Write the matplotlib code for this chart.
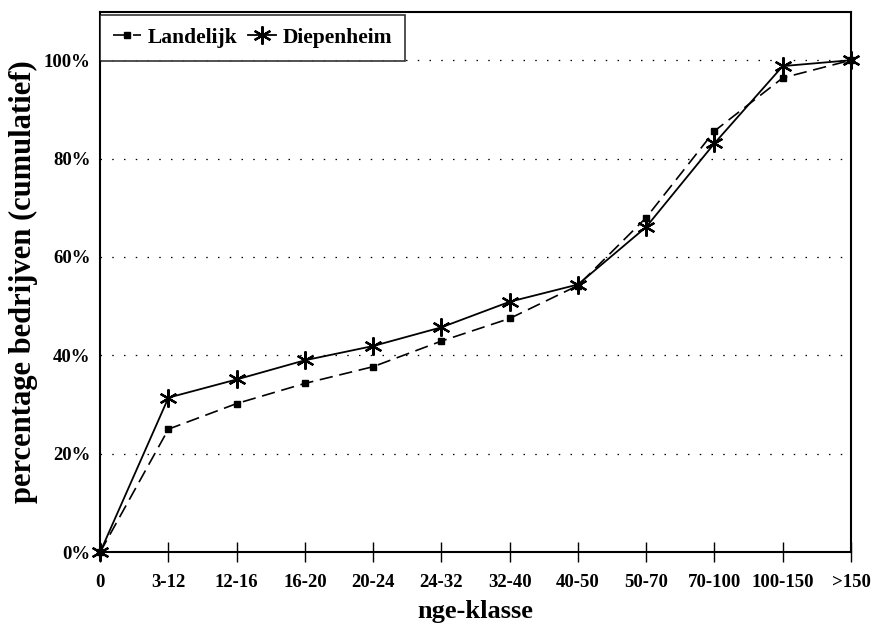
import matplotlib.pyplot as plt
import numpy as np
from matplotlib.ticker import FuncFormatter

klassen = ["0", "3-12", "12-16", "16-20", "20-24", "24-32", "32-40",
           "40-50", "50-70", "70-100", "100-150", ">150"]
landelijk = [0, 25.0, 30.2, 34.3, 37.7, 42.9, 47.5, 54.2, 68.0, 85.6, 96.4, 100]
diepenheim = [0, 31.4, 35.1, 39.0, 41.9, 45.7, 50.9, 54.4, 66.1, 83.1, 98.8, 100]
y_ticks = [0, 20, 40, 60, 80, 100]


def main():
    plt.rcParams['font.family'] = ['Liberation Serif', 'DejaVu Serif']
    plt.rcParams['font.weight'] = 'bold'

    fig = plt.figure(figsize=(8.71, 6.31), dpi=100)
    ax = fig.add_axes([0.115, 0.125, 0.862, 0.856])

    x = np.arange(len(klassen))
    ax.plot(x, landelijk, color='black', linestyle=(0, (8, 4)), linewidth=1.2,
            marker='s', markersize=4, label='Landelijk', clip_on=False)
    ax.plot(x, diepenheim, color='black', linestyle='-', linewidth=1.3,
            marker=(6, 2, 0), markersize=13, markeredgewidth=1.6,
            label='Diepenheim', clip_on=False)

    ax.set_xlim(0, len(klassen) - 1)
    ax.set_ylim(0, 109.8)
    ax.set_xticks(x)
    ax.set_xticklabels(klassen, fontsize=13.5, fontweight='bold')
    ax.set_yticks(y_ticks)
    ax.yaxis.set_major_formatter(FuncFormatter(lambda v, p: f"{int(v)}%"))
    for lab in ax.get_yticklabels():
        lab.set_fontsize(13.5)
        lab.set_fontweight('bold')

    ax.tick_params(axis='x', direction='inout', length=14, width=1, pad=9)
    ax.tick_params(axis='y', length=0, pad=7)

    for v in y_ticks[1:]:
        ax.axhline(v, color='black', linestyle=(0, (1.2, 8.2)), linewidth=0.9,
                   zorder=0)

    for s in ax.spines.values():
        s.set_linewidth(1.5)

    ax.set_xlabel('nge-klasse', fontsize=19, fontweight='bold', labelpad=6)
    ax.set_ylabel('percentage bedrijven (cumulatief)', fontsize=22,
                  fontweight='bold', labelpad=4)

    leg = ax.legend(loc='upper left', bbox_to_anchor=(0, 0.995), ncol=2,
                    fontsize=15.5, frameon=True, fancybox=False,
                    borderaxespad=0, handlelength=1.3, handletextpad=0.3,
                    columnspacing=0.5, borderpad=0.6)
    leg.get_frame().set_edgecolor('black')
    leg.get_frame().set_linewidth(1.2)
    for t in leg.get_texts():
        t.set_fontweight('bold')

    fig.savefig('out.png', dpi=100)


if __name__ == "__main__":
    main()
